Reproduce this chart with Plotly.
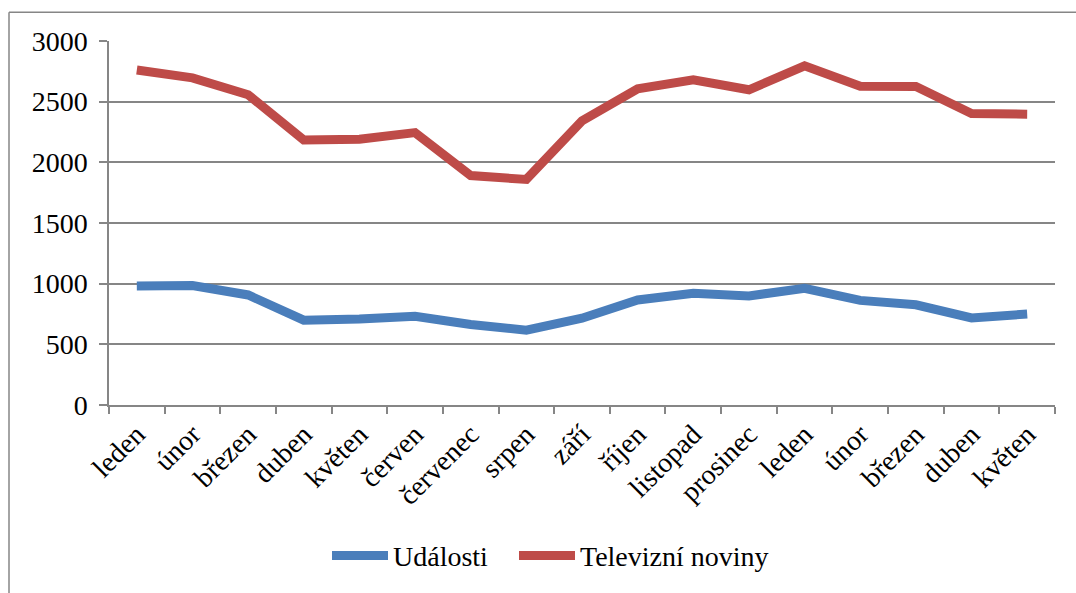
import plotly.graph_objects as go

categories = ["leden", "únor", "březen", "duben", "květen", "červen", "červenec", "srpen",
              "září", "říjen", "listopad", "prosinec", "leden", "únor", "březen", "duben", "květen"]
udalosti = [981, 984, 907, 699, 709, 731, 663, 617, 715, 866, 921, 899, 962, 862, 826, 717, 750]
televizni_noviny = [2761, 2696, 2557, 2185, 2190, 2245, 1891, 1859, 2342, 2606, 2680, 2598, 2796, 2628, 2625, 2402, 2397]
y_ticks = [0, 500, 1000, 1500, 2000, 2500, 3000]

FONT = "Liberation Serif"
FS = 28
xs = list(range(len(categories)))

fig = go.Figure()
fig.add_trace(go.Scatter(x=xs, y=udalosti, mode="lines", name="Události",
                         line=dict(color="#4A7EBB", width=9), legend="legend"))
fig.add_trace(go.Scatter(x=xs, y=televizni_noviny, mode="lines", name="Televizní noviny",
                         line=dict(color="#BE4B48", width=9), legend="legend2"))

leg_common = dict(orientation="h", xanchor="left", y=-0.414, yanchor="middle",
                  font=dict(family=FONT, size=FS), itemwidth=56)

fig.update_layout(
    width=1076, height=593,
    margin=dict(l=109, r=21, t=41, b=185),
    paper_bgcolor="white", plot_bgcolor="white",
    font=dict(family=FONT, size=FS, color="black"),
    showlegend=True,
    legend=dict(x=(327 - 109) / 946, **leg_common),
    legend2=dict(x=(514 - 109) / 946, **leg_common),
    xaxis=dict(
        range=[-0.5, len(categories) - 0.5],
        tickmode="array", tickvals=xs, ticktext=categories,
        tickangle=-45, ticks="", showgrid=False, zeroline=False,
        showline=True, linecolor="#868686", linewidth=1.5,
        minor=dict(tickmode="linear", tick0=-0.5, dtick=1, ticks="outside",
                   ticklen=7, tickcolor="#868686", tickwidth=1.5, showgrid=False),
        tickfont=dict(family=FONT, size=FS),
    ),
    yaxis=dict(
        range=[0, 3000], tickmode="array", tickvals=y_ticks,
        ticks="outside", ticklen=8, tickcolor="#868686", tickwidth=1.5,
        ticklabelstandoff=6,
        showgrid=True, gridcolor="#868686", gridwidth=1.5,
        zeroline=False, showline=True, linecolor="#868686", linewidth=1.5,
        tickfont=dict(family=FONT, size=FS),
    ),
    shapes=[
        dict(type="line", xref="paper", yref="paper",
             x0=-100/946, x1=1.1, y0=(593-12-185)/367, y1=(593-12-185)/367,
             line=dict(color="#868686", width=1.5)),
        dict(type="line", xref="paper", yref="paper",
             x0=-100/946, x1=-100/946, y0=(593-12-185)/367, y1=-0.6,
             line=dict(color="#868686", width=1.5)),
    ],
)

fig.write_html("out.html")
